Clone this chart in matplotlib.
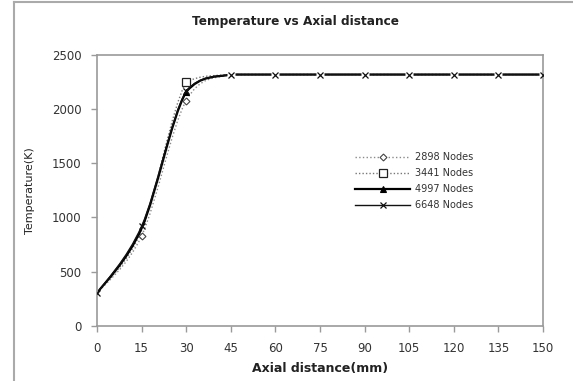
import matplotlib
matplotlib.use('Agg')
import matplotlib.pyplot as plt
from matplotlib.path import Path
from matplotlib.patches import PathPatch
from matplotlib.lines import Line2D

plt.rcParams['font.family'] = ['DejaVu Sans']

x = [0, 15, 30, 45, 60, 75, 90, 105, 120, 135, 150]
t2898 = [300, 830, 2080, 2320, 2320, 2320, 2320, 2320, 2320, 2320, 2320]
t3441 = [300, 880, 2250, 2320, 2320, 2320, 2320, 2320, 2320, 2320, 2320]
t4997 = [300, 900, 2160, 2320, 2320, 2320, 2320, 2320, 2320, 2320, 2320]
t6648 = [300, 920, 2170, 2320, 2320, 2320, 2320, 2320, 2320, 2320, 2320]
labels = ['2898 Nodes', '3441 Nodes', '4997 Nodes', '6648 Nodes']


def smooth_path(xs, ys):
    # excel-like smoothed line, control points kept inside each segment's range
    pts = list(zip(xs, ys))
    verts = [pts[0]]
    codes = [Path.MOVETO]
    n = len(pts)
    for i in range(n - 1):
        p0 = pts[i - 1] if i > 0 else pts[i]
        p1 = pts[i]
        p2 = pts[i + 1]
        p3 = pts[i + 2] if i + 2 < n else pts[i + 1]
        lo, hi = min(p1[1], p2[1]), max(p1[1], p2[1])
        c1y = min(max(p1[1] + (p2[1] - p0[1]) / 6, lo), hi)
        c2y = min(max(p2[1] - (p3[1] - p1[1]) / 6, lo), hi)
        c1 = (p1[0] + (p2[0] - p0[0]) / 6, c1y)
        c2 = (p2[0] - (p3[0] - p1[0]) / 6, c2y)
        verts += [c1, c2, p2]
        codes += [Path.CURVE4] * 3
    return Path(verts, codes)


fig = plt.figure(figsize=(5.73, 3.81), dpi=100)
ax = fig.add_axes([0.1693, 0.145, 0.7783, 0.7105])

series = [
    (t2898, dict(color='#8a8a8a', ls=':', lw=1.0),
     dict(marker='D', ms=3.5, mfc='white', mec='#444444', mew=0.8), [1, 2]),
    (t3441, dict(color='#777777', ls=(0, (1, 1.5)), lw=1.0),
     dict(marker='s', ms=5.5, mfc='white', mec='#222222', mew=0.9), [2]),
    (t4997, dict(color='black', ls='-', lw=1.6),
     dict(marker='^', ms=4.5, mfc='black', mec='black', mew=0.8), [2]),
    (t6648, dict(color='#111111', ls='-', lw=1.0),
     dict(marker='x', ms=4, mfc='none', mec='#111111', mew=0.9), None),
]

handles = []
for (ys, lstyle, mstyle, mk), lab in zip(series, labels):
    patch = PathPatch(smooth_path(x, ys), facecolor='none', edgecolor=lstyle['color'],
                      linestyle=lstyle['ls'], linewidth=lstyle['lw'], transform=ax.transData, zorder=1)
    ax.add_patch(patch)
    if mk is None:
        # gap in the lines around the x markers
        ax.plot(x[3:], ys[3:], linestyle='none', marker='s', ms=6, mfc='white', mec='none', zorder=2)
    ax.plot(x, ys, linestyle='none', markevery=mk, zorder=3, **mstyle)
    handles.append(Line2D([], [], color=lstyle['color'], linestyle=lstyle['ls'],
                          linewidth=lstyle['lw'], **mstyle))

ax.set_xlim(0, 150)
ax.set_ylim(0, 2500)
ax.set_xticks(range(0, 151, 15))
ax.set_yticks(range(0, 2501, 500))
for s in ax.spines.values():
    s.set_color('#9a9a9a')
    s.set_linewidth(1.2)
ax.tick_params(axis='both', color='#9a9a9a', length=4, width=1, labelsize=8.5, labelcolor='#333333')
ax.tick_params(axis='x', pad=8)
ax.tick_params(axis='y', pad=7)

ax.set_xlabel('Axial distance(mm)', fontsize=9, fontweight='bold', color='#222222', labelpad=5)
ax.set_ylabel('Temperature(K)', fontsize=8, color='#222222', labelpad=12)
fig.text(296 / 573, 1 - 22 / 381, 'Temperature vs Axial distance', ha='center', va='center',
         fontsize=8.75, fontweight='bold', color='#222222')

ax.legend(handles, labels, loc='upper left', bbox_to_anchor=(355 / 573, 1 - 152 / 381),
          bbox_transform=fig.transFigure, frameon=False, borderpad=0, borderaxespad=0,
          fontsize=7, handlelength=5.7, handletextpad=0.5, labelspacing=0.62, labelcolor='#333333')

# outer chart border
fig.add_artist(Line2D([14 / 573, 1], [1 - 2 / 381, 1 - 2 / 381], color='#aaaaaa', lw=1.5, transform=fig.transFigure))
fig.add_artist(Line2D([14 / 573, 14 / 573], [0, 1 - 2 / 381], color='#aaaaaa', lw=1.5, transform=fig.transFigure))

fig.savefig('out.png', dpi=100)
